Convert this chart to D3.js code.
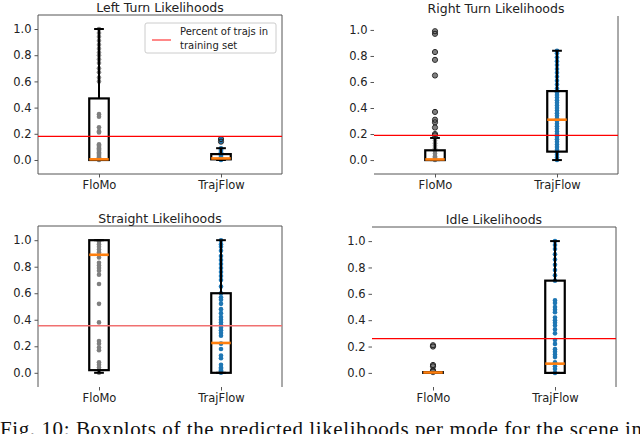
<!DOCTYPE html>
<html>
<head>
<meta charset="utf-8">
<script src="https://cdn.jsdelivr.net/npm/d3@7"></script>
<style>
  body { margin: 0; background: #fff; }
  svg text { font-family: "DejaVu Sans", sans-serif; fill: #222; }
</style>
</head>
<body>
<svg id="chart" width="640" height="434"></svg>
<script>
// values
var methods = ["FloMo", "TrajFlow"]
var titles = ["Left Turn Likelihoods", "Right Turn Likelihoods", "Straight Likelihoods", "Idle Likelihoods"]
var yTicks = [0, 0.2, 0.4, 0.6, 0.8, 1.0]
var trainPercent = [0.18, 0.19, 0.355, 0.26]

// box stats per panel: [whiskerLo, q1, median, q3, whiskerHi]
var floMoBox = [[0, 0, 0.005, 0.47, 1.0], [0, 0, 0.005, 0.075, 0.17], [0, 0.02, 0.89, 1.0, 1.0], [0, 0, 0.003, 0.006, 0.006]]
var trajFlowBox = [[0, 0.005, 0.012, 0.045, 0.09], [0, 0.065, 0.31, 0.53, 0.84], [0, 0, 0.225, 0.6, 1.0], [0, 0, 0.07, 0.70, 1.0]]

// raw predictions
var floMoPts = [
  [0, 0.01, 0.02, 0.03, 0.04, 0.05, 0.06, 0.07, 0.08, 0.09, 0.1, 0.11, 0.12, 0.21, 0.22, 0.25, 0.33, 0.35, 0.6, 0.63, 0.67, 0.7, 0.74, 0.77, 0.8, 0.82, 0.85, 0.88, 0.91, 0.94, 0.97, 1.0],
  [0, 0.01, 0.02, 0.03, 0.05, 0.07, 0.09, 0.11, 0.13, 0.15, 0.17, 0.19, 0.2, 0.25, 0.29, 0.31, 0.37, 0.65, 0.77, 0.83, 0.97, 0.99],
  [0, 0.02, 0.04, 0.06, 0.08, 0.17, 0.19, 0.22, 0.24, 0.38, 0.52, 0.67, 0.74, 0.77, 0.79, 0.81, 0.83, 0.87, 0.89, 0.91, 0.93, 0.95, 0.97, 0.99],
  [0, 0.003, 0.01, 0.02, 0.05, 0.06, 0.2, 0.21]
]
var trajFlowPts = [
  [0, 0.005, 0.01, 0.015, 0.02, 0.03, 0.04, 0.05, 0.06, 0.07, 0.08, 0.09, 0.14, 0.16],
  [0, 0.02, 0.04, 0.06, 0.08, 0.1, 0.12, 0.14, 0.16, 0.18, 0.2, 0.22, 0.24, 0.26, 0.28, 0.3, 0.32, 0.34, 0.36, 0.38, 0.4, 0.42, 0.44, 0.46, 0.48, 0.5, 0.52, 0.55, 0.58, 0.61, 0.64, 0.67, 0.7, 0.73, 0.76, 0.79, 0.82, 0.84],
  [0, 0.01, 0.02, 0.03, 0.04, 0.06, 0.11, 0.13, 0.18, 0.22, 0.28, 0.3, 0.32, 0.34, 0.36, 0.38, 0.4, 0.42, 0.45, 0.48, 0.52, 0.55, 0.57, 0.6, 0.65, 0.7, 0.73, 0.76, 0.79, 0.82, 0.85, 0.88, 0.92, 0.95, 0.97, 1.0],
  [0, 0.03, 0.05, 0.08, 0.12, 0.14, 0.16, 0.18, 0.22, 0.25, 0.3, 0.33, 0.36, 0.38, 0.4, 0.42, 0.46, 0.48, 0.5, 0.53, 0.55, 0.7, 0.74, 0.78, 0.82, 0.86, 0.9, 0.94, 0.97, 1.0]
]
// boxplot outliers (open circles)
var floMoFliers = [[], [0.19, 0.2, 0.25, 0.29, 0.31, 0.37, 0.65, 0.77, 0.83, 0.97, 0.99], [], [0.01, 0.02, 0.05, 0.06, 0.2, 0.21]]
var trajFlowFliers = [[0.14, 0.16], [], [], []]

// frame of each panel and which spines survived in the screenshot
var frames = [
  {l: 38, r: 282, t: 15, b: 174, spines: ["left", "right", "top", "bottom"]},
  {l: 374, r: 618, t: 16, b: 174, spines: ["right", "bottom"]},
  {l: 38, r: 282, t: 226, b: 387, spines: ["left", "right", "top"]},
  {l: 372, r: 616, t: 227, b: 387, spines: ["right", "top"]}
]

var svg = d3.select('#chart')
var blue = '#1f77b4', grey = '#7f7f7f', orange = '#ff7f0e'

frames.forEach(function(f, p){
  var g = svg.append('g')
  var x = d3.scaleLinear().domain([0.5, 2.5]).range([f.l, f.r])
  var y = d3.scaleLinear().domain([-0.107, 1.107]).range([f.b, f.t])

  // spines
  var sp = {left: [f.l, f.t, f.l, f.b], right: [f.r, f.t, f.r, f.b], top: [f.l, f.t, f.r, f.t], bottom: [f.l, f.b, f.r, f.b]}
  f.spines.forEach(function(s){
    var c = sp[s]
    g.append('line').attr('x1', c[0]).attr('y1', c[1]).attr('x2', c[2]).attr('y2', c[3])
      .attr('stroke', '#555').attr('stroke-width', 1)
  })

  // y axis
  var yAxis = d3.axisLeft(y).tickValues(yTicks).tickFormat(d3.format('.1f')).tickSize(3.5).tickPadding(3)
  var ya = g.append('g').attr('transform', 'translate(' + f.l + ',0)').call(yAxis)
  ya.select('.domain').remove()
  ya.selectAll('text').attr('font-size', 11.5).attr('fill', '#222')
  ya.selectAll('line').attr('stroke', '#555')

  // x axis
  var xAxis = d3.axisBottom(x).tickValues([1, 2]).tickFormat(function(d){ return methods[d - 1] }).tickSize(3.5).tickPadding(3)
  var xa = g.append('g').attr('transform', 'translate(0,' + f.b + ')').call(xAxis)
  xa.select('.domain').remove()
  xa.selectAll('text').attr('font-size', 11.5).attr('fill', '#222')
  xa.selectAll('line').attr('stroke', '#555')

  // title
  g.append('text').attr('x', (f.l + f.r) / 2).attr('y', f.t - 3.5)
    .attr('text-anchor', 'middle').attr('font-size', 12.5).text(titles[p])

  var bw = 0.16
  var series = [
    {pos: 1, box: floMoBox[p], pts: floMoPts[p], fl: floMoFliers[p], col: grey},
    {pos: 2, box: trajFlowBox[p], pts: trajFlowPts[p], fl: trajFlowFliers[p], col: blue}
  ]
  series.forEach(function(s){
    var cx = x(s.pos)
    var x0 = x(s.pos - bw / 2), x1 = x(s.pos + bw / 2)
    var cap = (x1 - x0) / 2
    // raw points
    g.selectAll(null).data(s.pts).enter().append('circle')
      .attr('cx', cx).attr('cy', function(d){ return y(d) })
      .attr('r', 2.3).attr('fill', s.col)
    // whiskers
    g.append('line').attr('x1', cx).attr('x2', cx).attr('y1', y(s.box[3])).attr('y2', y(s.box[4]))
      .attr('stroke', 'black').attr('stroke-width', 2)
    g.append('line').attr('x1', cx).attr('x2', cx).attr('y1', y(s.box[1])).attr('y2', y(s.box[0]))
      .attr('stroke', 'black').attr('stroke-width', 2)
    ;[s.box[0], s.box[4]].forEach(function(v){
      g.append('line').attr('x1', cx - cap / 2).attr('x2', cx + cap / 2).attr('y1', y(v)).attr('y2', y(v))
        .attr('stroke', 'black').attr('stroke-width', 2)
    })
    // box
    g.append('rect').attr('x', x0).attr('width', x1 - x0)
      .attr('y', y(s.box[3])).attr('height', y(s.box[1]) - y(s.box[3]))
      .attr('fill', 'none').attr('stroke', 'black').attr('stroke-width', 2.2)
    // fliers
    g.selectAll(null).data(s.fl).enter().append('circle')
      .attr('cx', cx).attr('cy', function(d){ return y(d) })
      .attr('r', 2.6).attr('fill', 'none').attr('stroke', '#222').attr('stroke-width', 1)
    // median
    g.append('line').attr('x1', x0).attr('x2', x1).attr('y1', y(s.box[2])).attr('y2', y(s.box[2]))
      .attr('stroke', orange).attr('stroke-width', 2.6)
  })

  // share of each mode in the training set
  g.append('line').attr('x1', f.l).attr('x2', f.r).attr('y1', y(trainPercent[p])).attr('y2', y(trainPercent[p]))
    .attr('stroke', p == 2 ? '#f07070' : 'red').attr('stroke-width', 1.3)

  if (p == 0){
    var lg = g.append('g')
    lg.append('rect').attr('x', 145).attr('y', 23).attr('width', 131).attr('height', 30).attr('rx', 2)
      .attr('fill', 'white').attr('fill-opacity', 0.8).attr('stroke', '#ccc')
    lg.append('line').attr('x1', 152).attr('x2', 171).attr('y1', 40).attr('y2', 40)
      .attr('stroke', '#ff6060').attr('stroke-width', 1.5)
    lg.append('text').attr('x', 180).attr('y', 35).attr('font-size', 10).text('Percent of trajs in')
    lg.append('text').attr('x', 180).attr('y', 49).attr('font-size', 10).text('training set')
  }
})

svg.append('text').attr('x', 0).attr('y', 436)
  .style('font-family', '"Liberation Serif", serif').attr('font-size', 21).style('fill', '#111')
  .attr('textLength', 642).attr('lengthAdjust', 'spacing')
  .text('Fig. 10: Boxplots of the predicted likelihoods per mode for the scene in')
</script>
</body>
</html>
